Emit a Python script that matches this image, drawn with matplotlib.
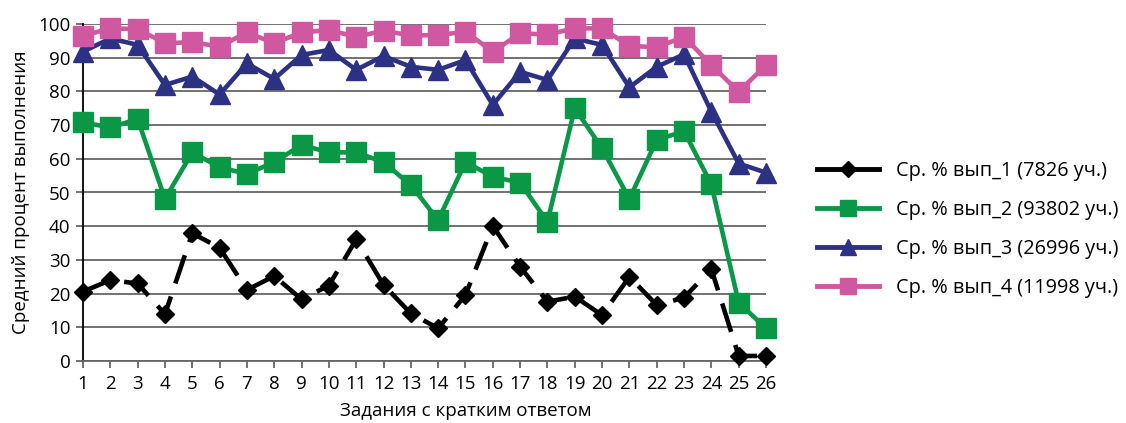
import matplotlib
matplotlib.use("Agg")
import matplotlib.pyplot as plt
from matplotlib.lines import Line2D

plt.rcParams['font.family'] = ['Open Sans', 'DejaVu Sans']

tasks = list(range(1, 27))
series_labels = [
    "Ср. % вып_1 (7826 уч.)",
    "Ср. % вып_2 (93802 уч.)",
    "Ср. % вып_3 (26996 уч.)",
    "Ср. % вып_4 (11998 уч.)",
]
group1 = [20.6, 24.0, 23.0, 13.9, 37.9, 33.6, 21.1, 25.2, 18.3, 22.4, 36.1, 22.6, 14.1,
          9.7, 19.6, 40.1, 28.0, 17.6, 19.1, 13.6, 25.0, 16.6, 18.8, 27.3, 1.5, 1.5]
group2 = [70.8, 69.3, 71.8, 48.1, 61.9, 57.5, 55.5, 59.0, 64.1, 61.9, 61.9, 59.0, 52.2,
          41.8, 59.0, 54.7, 52.9, 41.3, 75.0, 63.1, 48.1, 65.6, 68.2, 52.4, 17.3, 9.7]
group3 = [91.8, 95.7, 93.8, 81.9, 84.4, 79.1, 88.3, 83.7, 90.8, 92.3, 86.4, 90.5, 87.3,
          86.4, 89.3, 76.0, 85.8, 83.4, 95.7, 93.8, 81.2, 87.3, 91.0, 74.0, 58.6, 55.9]
group4 = [96.5, 98.7, 98.5, 94.3, 94.6, 93.3, 97.5, 94.3, 97.5, 98.2, 96.2, 98.0, 96.6,
          96.7, 97.7, 91.8, 97.2, 96.9, 98.7, 98.7, 93.5, 93.1, 96.2, 87.8, 79.9, 87.8]
y_ticks = list(range(0, 101, 10))

W, H = 1126, 423
fig = plt.figure(figsize=(W / 100, H / 100), dpi=100)
ax = fig.add_axes([83 / W, 1 - 361 / H, (766 - 83) / W, (361 - 24) / H])

black, green, navy, pink = "#000000", "#0A9847", "#2D3184", "#D058A1"
lw = 3.3

ax.plot(tasks, group4, color=pink, lw=lw, marker='s', ms=14, mec=pink,
        clip_on=False, zorder=5)
ax.plot(tasks, group3, color=navy, lw=lw, marker='^', ms=15, mec=navy,
        clip_on=False, zorder=4)
ax.plot(tasks, group2, color=green, lw=lw, marker='s', ms=15, mec=green,
        clip_on=False, zorder=3)
ax.plot(tasks, group1, color=black, lw=lw, ls=(0, (6.5, 3)), marker='D', ms=9.5,
        mec=black, clip_on=False, zorder=6)

ax.set_xlim(1, 26)
ax.set_ylim(0, 100)
ax.set_xticks(tasks)
ax.set_yticks(y_ticks)
ax.grid(axis='y', color='#666666', lw=1.3, zorder=0)
ax.set_axisbelow(True)
for s in ('top', 'right'):
    ax.spines[s].set_visible(False)
ax.spines['left'].set_color('black')
ax.spines['left'].set_linewidth(1.3)
ax.spines['bottom'].set_color('#666666')
ax.spines['bottom'].set_linewidth(1.3)
ax.tick_params(axis='y', length=5, width=1.3, color='#666666', pad=4, labelsize=13.5)
ax.tick_params(axis='x', length=5, width=1.3, color='#666666', pad=5, labelsize=13.5)

ax.set_ylabel("Средний процент выполнения", fontsize=13.5, labelpad=6)
fig.text(466 / W, 1 - 402 / H, "Задания с кратким ответом", fontsize=13.5,
         ha='center', va='top')

handles = [
    Line2D([], [], color=black, lw=3.5, marker='D', ms=8.5, mec=black),
    Line2D([], [], color=green, lw=3.5, marker='s', ms=11, mec=green),
    Line2D([], [], color=navy, lw=3.5, marker='^', ms=11, mec=navy),
    Line2D([], [], color=pink, lw=3.5, marker='s', ms=11, mec=pink),
]
fig.legend(handles, series_labels, loc='center left',
           bbox_to_anchor=(817 / W, 1 - 229.5 / H), frameon=False,
           borderpad=0, borderaxespad=0, handlelength=3.1, handletextpad=0.9,
           labelspacing=0.95, fontsize=14.3)

fig.savefig("out.png", dpi=100)
